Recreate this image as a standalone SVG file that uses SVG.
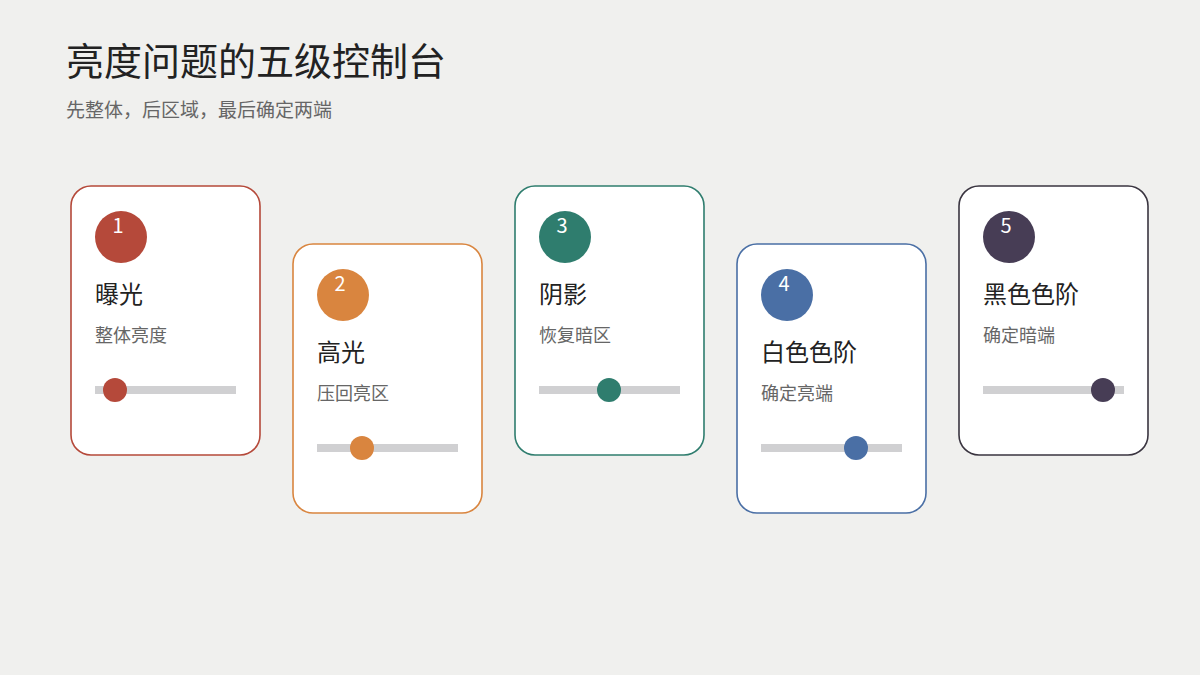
<svg xmlns="http://www.w3.org/2000/svg" width="1200" height="675" viewBox="0 0 1200 675">
<style>
text{font-family:"Noto Sans CJK SC","Noto Sans",sans-serif}
.card{fill:#fff;stroke-width:1.6}
.num{fill:#fff;font-size:20px;text-anchor:middle}
.t{fill:#222;font-size:24px}
.s{fill:#666;font-size:18px}
.track{fill:#d0d0d2}
</style>
<rect width="1200" height="675" fill="#f0f0ee"/>
<text x="66" y="75" font-size="38" fill="#222">亮度问题的五级控制台</text>
<text x="66" y="117" font-size="19" fill="#666">先整体，后区域，最后确定两端</text>
<g id="card1" transform="translate(71,186)">
<rect class="card" width="189" height="269" rx="20" stroke="#b5493a"/>
<circle cx="50" cy="51" r="26" fill="#b5493a"/><text class="num" x="47" y="47">1</text>
<text class="t" x="24" y="117">曝光</text><text class="s" x="24" y="156">整体亮度</text>
<rect class="track" x="24" y="200" width="141" height="8"/><circle cx="44" cy="204" r="12" fill="#b5493a"/>
</g>
<g id="card2" transform="translate(293,244)">
<rect class="card" width="189" height="269" rx="20" stroke="#d9853f"/>
<circle cx="50" cy="51" r="26" fill="#d9853f"/><text class="num" x="47" y="47">2</text>
<text class="t" x="24" y="117">高光</text><text class="s" x="24" y="156">压回亮区</text>
<rect class="track" x="24" y="200" width="141" height="8"/><circle cx="69" cy="204" r="12" fill="#d9853f"/>
</g>
<g id="card3" transform="translate(515,186)">
<rect class="card" width="189" height="269" rx="20" stroke="#2f7d6e"/>
<circle cx="50" cy="51" r="26" fill="#2f7d6e"/><text class="num" x="47" y="47">3</text>
<text class="t" x="24" y="117">阴影</text><text class="s" x="24" y="156">恢复暗区</text>
<rect class="track" x="24" y="200" width="141" height="8"/><circle cx="94" cy="204" r="12" fill="#2f7d6e"/>
</g>
<g id="card4" transform="translate(737,244)">
<rect class="card" width="189" height="269" rx="20" stroke="#4a6fa5"/>
<circle cx="50" cy="51" r="26" fill="#4a6fa5"/><text class="num" x="47" y="47">4</text>
<text class="t" x="24" y="117">白色色阶</text><text class="s" x="24" y="156">确定亮端</text>
<rect class="track" x="24" y="200" width="141" height="8"/><circle cx="119" cy="204" r="12" fill="#4a6fa5"/>
</g>
<g id="card5" transform="translate(959,186)">
<rect class="card" width="189" height="269" rx="20" stroke="#3a3540"/>
<circle cx="50" cy="51" r="26" fill="#473d55"/><text class="num" x="47" y="47">5</text>
<text class="t" x="24" y="117">黑色色阶</text><text class="s" x="24" y="156">确定暗端</text>
<rect class="track" x="24" y="200" width="141" height="8"/><circle cx="144" cy="204" r="12" fill="#473d55"/>
</g>
<g id="connectors"/>
</svg>
